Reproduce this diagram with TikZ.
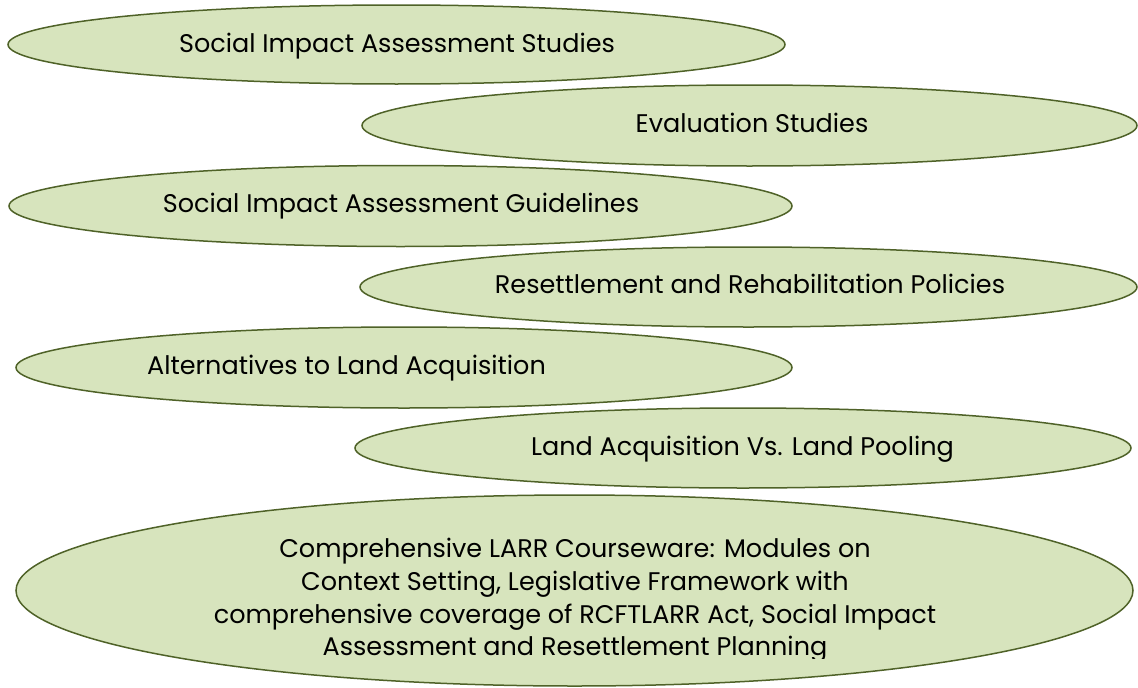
\documentclass[tikz,border=0pt]{standalone}
\usepackage{fontspec}
\setmainfont{Poppins}
\usepackage{tikz}

\definecolor{leaf}{HTML}{D7E4BD}
\definecolor{olive}{HTML}{4F6228}

\begin{document}
\begin{tikzpicture}[x=1pt,y=-1pt]
\tikzstyle{blob}=[fill=leaf,draw=olive,line width=1.5pt]
\tikzstyle{every node}+=[inner sep=0pt,anchor=base,font=\fontsize{25.5}{32.7}\selectfont]
\useasboundingbox (0,0) rectangle (1138,688);
\filldraw [blob] (396.5,44.5) ellipse (388.5 and 39.5);
\node (sias) at (397,52) {Social Impact Assessment Studies};
\filldraw [blob] (749.5,125.5) ellipse (387.5 and 40.5);
\node (eval) at (752,132) {Evaluation Studies};
\filldraw [blob] (400.5,206) ellipse (391.5 and 40.5);
\node (siag) at (401,212) {Social Impact Assessment Guidelines};
\filldraw [blob] (748.5,287) ellipse (388.5 and 40);
\node (rr) at (750,293) {Resettlement and Rehabilitation Policies};
\filldraw [blob] (404,367.5) ellipse (388 and 40.5);
\node (alt) at (346.5,374) {Alternatives to Land Acquisition};
\filldraw [blob] (743,448) ellipse (388 and 40);
\node (pool) at (742.5,455) {Land Acquisition Vs. Land Pooling};
\filldraw [blob] (574.5,590.5) ellipse (558.5 and 95.5);
\begin{scope}
\clip (0,480) rectangle (1138,658);
\node (larr1) at (575,557) {Comprehensive LARR Courseware: Modules on};
\node (larr2) at (575,590) {Context Setting, Legislative Framework with};
\node (larr3) at (575,623) {comprehensive coverage of RCFTLARR Act, Social Impact};
\node (larr4) at (575,655) {Assessment and Resettlement Planning};
\end{scope}
\end{tikzpicture}
\end{document}
